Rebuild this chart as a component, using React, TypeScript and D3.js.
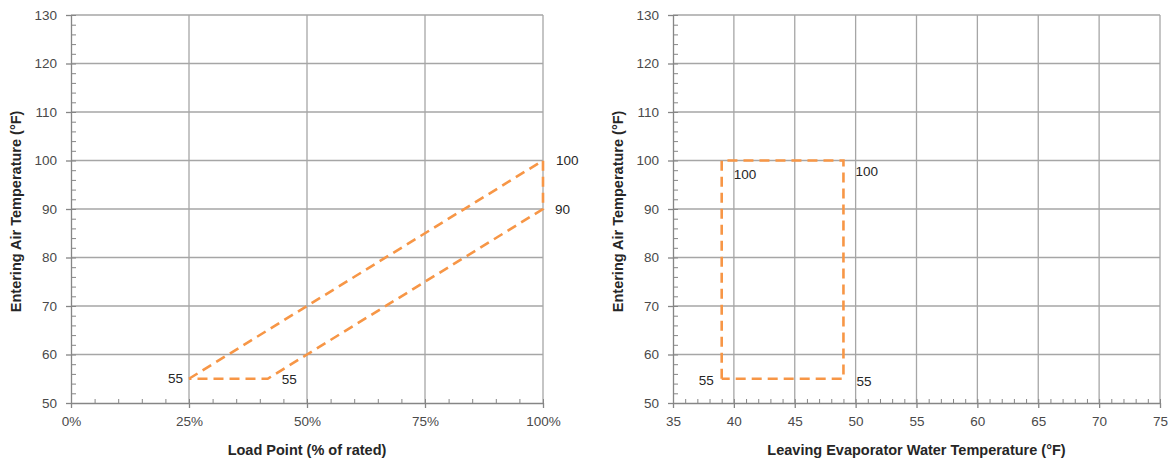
import { useEffect, useRef } from 'react';
import * as d3 from 'd3';

// Entering air temperature axis (shared)
const tempTicks = [50, 60, 70, 80, 90, 100, 110, 120, 130];

// Left chart: load point vs entering air temperature
const loadTicks = [0, 0.25, 0.5, 0.75, 1];
const loadPoint = [0.25, 0.5, 1, 1, 0.5, 0.4167, 0.25];
const loadAirTemp = [55, 70, 100, 90, 60, 55, 55];
const loadLabelIdx = [0, 2, 3, 5];

// Right chart: leaving evaporator water temp vs entering air temperature
const lewtTicks = [35, 40, 45, 50, 55, 60, 65, 70, 75];
const lewtPoint = [39, 39, 49, 49, 39];
const lewtAirTemp = [55, 100, 100, 55, 55];
const lewtLabelIdx = [0, 1, 2, 3];

const W = 1170;
const H = 460;
const FONT = '"Liberation Sans", Arial, sans-serif';
const ORANGE = '#f79646';
const GRID = '#a6a6a6';
const AXIS = '#868686';
const TICK_TEXT = '#4a4a4a';
const TEXT = '#262626';

interface PanelProps {
  svg: d3.Selection<SVGSVGElement, unknown, null, undefined>;
  xDomain: [number, number];
  xRange: [number, number];
  xTicks: number[];
  xMinorStep: number;
  xFormat: (v: number) => string;
  xTitle: string;
  yTitleX: number;
  xs: number[];
  ys: number[];
  labelIdx: number[];
  labelOffsets: { dx: number; dy: number; anchor: string }[];
}

const drawPanel = ({
  svg,
  xDomain,
  xRange,
  xTicks,
  xMinorStep,
  xFormat,
  xTitle,
  yTitleX,
  xs,
  ys,
  labelIdx,
  labelOffsets,
}: PanelProps) => {
  const x = d3.scaleLinear().domain(xDomain).range(xRange);
  const y = d3.scaleLinear().domain([50, 130]).range([403, 15]);
  const g = svg.append('g');

  // gridlines
  g.append('g')
    .selectAll('line')
    .data(tempTicks.slice(1))
    .enter()
    .append('line')
    .attr('x1', xRange[0])
    .attr('x2', xRange[1])
    .attr('y1', (d) => y(d))
    .attr('y2', (d) => y(d))
    .attr('stroke', GRID)
    .attr('stroke-width', 1.3);
  g.append('g')
    .selectAll('line')
    .data(xTicks.slice(1))
    .enter()
    .append('line')
    .attr('x1', (d) => x(d))
    .attr('x2', (d) => x(d))
    .attr('y1', y(50))
    .attr('y2', y(130))
    .attr('stroke', GRID)
    .attr('stroke-width', 1.3);

  // minor ticks (inside)
  const xMinor = d3.range(xDomain[0], xDomain[1] + 1e-9, xMinorStep);
  const yMinor = d3.range(50, 130.001, 2);
  g.append('g')
    .attr('transform', `translate(0,${y(50)})`)
    .call(d3.axisBottom(x).tickValues(xMinor).tickSize(-4).tickFormat(() => ''))
    .call((s) => s.select('.domain').remove())
    .call((s) => s.selectAll('line').attr('stroke', AXIS));
  g.append('g')
    .attr('transform', `translate(${xRange[0]},0)`)
    .call(d3.axisLeft(y).tickValues(yMinor).tickSize(-5).tickFormat(() => ''))
    .call((s) => s.select('.domain').remove())
    .call((s) => s.selectAll('line').attr('stroke', AXIS));

  // major axes
  const xAxis = g
    .append('g')
    .attr('transform', `translate(0,${y(50)})`)
    .call(d3.axisBottom(x).tickValues(xTicks).tickSize(5).tickSizeOuter(0).tickPadding(8).tickFormat((d) => xFormat(d as number)));
  const yAxis = g
    .append('g')
    .attr('transform', `translate(${xRange[0]},0)`)
    .call(d3.axisLeft(y).tickValues(tempTicks).tickSize(5).tickSizeOuter(0).tickPadding(9));
  [xAxis, yAxis].forEach((a) => {
    a.select('.domain').attr('stroke', AXIS).attr('stroke-width', 1.3);
    a.selectAll('line').attr('stroke', AXIS).attr('stroke-width', 1.3);
    a.selectAll('text').attr('fill', TICK_TEXT).style('font-family', FONT).style('font-size', '13.5px');
  });

  // axis titles
  g.append('text')
    .attr('x', (xRange[0] + xRange[1]) / 2)
    .attr('y', 455)
    .attr('text-anchor', 'middle')
    .attr('fill', TEXT)
    .style('font-family', FONT)
    .style('font-size', '14.5px')
    .style('font-weight', 'bold')
    .text(xTitle);
  g.append('text')
    .attr('transform', `translate(${yTitleX},${y(89.5)}) rotate(-90)`)
    .attr('text-anchor', 'middle')
    .attr('fill', TEXT)
    .style('font-family', FONT)
    .style('font-size', '14.5px')
    .style('font-weight', 'bold')
    .text('Entering Air Temperature (°F)');

  // dashed series
  const line = d3
    .line<number>()
    .x((_, i) => x(xs[i]))
    .y((d) => y(d));
  g.append('path')
    .attr('d', line(ys))
    .attr('fill', 'none')
    .attr('stroke', ORANGE)
    .attr('stroke-width', 2.6)
    .attr('stroke-dasharray', '10,6');

  // data labels
  g.append('g')
    .selectAll('text')
    .data(labelIdx)
    .enter()
    .append('text')
    .attr('x', (d, i) => x(xs[d]) + labelOffsets[i].dx)
    .attr('y', (d, i) => y(ys[d]) + labelOffsets[i].dy)
    .attr('text-anchor', (_, i) => labelOffsets[i].anchor)
    .attr('dominant-baseline', 'central')
    .attr('fill', TEXT)
    .style('font-family', FONT)
    .style('font-size', '13.5px')
    .text((d) => String(ys[d]));
};

export default function App() {
  const ref = useRef<SVGSVGElement>(null);

  useEffect(() => {
    const svg = d3.select(ref.current!);
    svg.selectAll('*').remove();

    drawPanel({
      svg,
      xDomain: [0, 1],
      xRange: [71, 543],
      xTicks: loadTicks,
      xMinorStep: 0.05,
      xFormat: d3.format('.0%'),
      xTitle: 'Load Point (% of rated)',
      yTitleX: 21,
      xs: loadPoint,
      ys: loadAirTemp,
      labelIdx: loadLabelIdx,
      labelOffsets: [
        { dx: -6, dy: 0, anchor: 'end' },
        { dx: 13, dy: 0, anchor: 'start' },
        { dx: 12, dy: 0, anchor: 'start' },
        { dx: 14, dy: 1, anchor: 'start' },
      ],
    });

    drawPanel({
      svg,
      xDomain: [35, 75],
      xRange: [673, 1160],
      xTicks: lewtTicks,
      xMinorStep: 1,
      xFormat: d3.format('d'),
      xTitle: 'Leaving Evaporator Water Temperature (°F)',
      yTitleX: 623,
      xs: lewtPoint,
      ys: lewtAirTemp,
      labelIdx: lewtLabelIdx,
      labelOffsets: [
        { dx: -8, dy: 2, anchor: 'end' },
        { dx: 12, dy: 14, anchor: 'start' },
        { dx: 12, dy: 11, anchor: 'start' },
        { dx: 13, dy: 3, anchor: 'start' },
      ],
    });
  }, []);

  return (
    <svg
      ref={ref}
      width={W}
      height={H}
      style={{ position: 'absolute', left: 0, top: 0, background: '#fff' }}
    />
  );
}
